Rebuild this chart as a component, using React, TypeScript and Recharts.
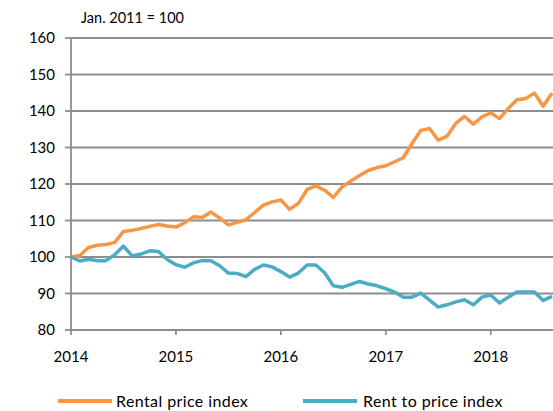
import React from 'react';
import { LineChart, Line, XAxis, YAxis, CartesianGrid } from 'recharts';

// Monthly observations, Jan 2014 .. Aug 2018 (index 0 = Jan 2014)
const rentalPriceIndex = [
  100, 100.4, 102.6, 103.2, 103.4, 104, 107, 107.3, 107.8, 108.4, 108.9, 108.5,
  108.2, 109.4, 111, 110.8, 112.3, 110.7, 108.8, 109.5, 110.2, 112.2, 114.2, 115.1,
  115.6, 113.1, 114.7, 118.5, 119.5, 118.3, 116.3, 119.2, 120.8, 122.3, 123.7, 124.5,
  125, 126.1, 127.2, 131.1, 134.7, 135.2, 132, 133.1, 136.6, 138.5, 136.4, 138.4,
  139.5, 137.9, 140.7, 143.1, 143.4, 144.9, 141.3, 144.9,
];
const rentToPriceIndex = [
  100, 98.9, 99.4, 99, 99, 100.6, 103, 100.3, 100.8, 101.7, 101.5, 99.3,
  97.9, 97.2, 98.4, 99, 99, 97.6, 95.6, 95.5, 94.6, 96.6, 97.8, 97.3,
  96, 94.5, 95.6, 97.8, 97.8, 95.7, 92.1, 91.7, 92.5, 93.3, 92.6, 92.1,
  91.3, 90.4, 89, 89, 90.1, 88.2, 86.3, 86.9, 87.7, 88.3, 86.9, 89,
  89.6, 87.4, 89, 90.4, 90.4, 90.4, 88.1, 89.2,
];
const yearTicks = [0, 12, 24, 36, 48];
const yearLabels = ['2014', '2015', '2016', '2017', '2018'];
const yTicks = [80, 90, 100, 110, 120, 130, 140, 150, 160];
const seriesNames = ['Rental price index', 'Rent to price index'];
const unitNote = 'Jan. 2011 = 100';

const ORANGE = '#F79646';
const BLUE = '#4BACC6';
const GRID = '#8d8d8d';
const FONT = 'Lato, "Open Sans", sans-serif';

const data = rentalPriceIndex.map((v, i) => ({
  m: i,
  rental: v,
  rtp: rentToPriceIndex[i],
}));

export default function App() {
  return (
    <div style={{ position: 'absolute', left: 0, top: 0, width: 553, height: 411, background: '#fff', overflow: 'hidden' }}>
      <LineChart width={553} height={411} data={data} margin={{ top: 38, right: 0, bottom: 0, left: 0 }}>
        <CartesianGrid vertical={false} stroke={GRID} strokeWidth={1.8} />
        <XAxis
          dataKey="m"
          type="number"
          domain={[0, 55.12]}
          ticks={yearTicks}
          interval={0}
          tickFormatter={(v: number) => yearLabels[yearTicks.indexOf(v)]}
          height={81}
          tickSize={5}
          tickMargin={16}
          axisLine={{ stroke: GRID, strokeWidth: 1.8 }}
          tickLine={{ stroke: GRID, strokeWidth: 1.8 }}
          tick={{ fill: '#000', fontSize: 15, fontFamily: FONT }}
        />
        <YAxis
          domain={[80, 160]}
          ticks={yTicks}
          interval={0}
          width={71}
          tickSize={6}
          tickMargin={10}
          axisLine={{ stroke: GRID, strokeWidth: 1.8 }}
          tickLine={{ stroke: GRID, strokeWidth: 1.8 }}
          tick={{ fill: '#000', fontSize: 15, fontFamily: FONT }}
        />
        <Line
          dataKey="rental"
          name={seriesNames[0]}
          stroke={ORANGE}
          strokeWidth={3.5}
          dot={false}
          strokeLinejoin="round"
          isAnimationActive={false}
        />
        <Line
          dataKey="rtp"
          name={seriesNames[1]}
          stroke={BLUE}
          strokeWidth={3.5}
          dot={false}
          strokeLinejoin="round"
          isAnimationActive={false}
        />
      </LineChart>
      <svg width={553} height={411} style={{ position: 'absolute', left: 0, top: 0, pointerEvents: 'none' }}>
        <text x={81} y={22.5} fontSize={14.5} fontFamily={FONT} fill="#000">{unitNote}</text>
        <line x1={58} x2={112} y1={401} y2={401} stroke={ORANGE} strokeWidth={4} />
        <text x={116} y={407} fontSize={16} letterSpacing={0.4} fontFamily={FONT} fill="#000">{seriesNames[0]}</text>
        <line x1={303} x2={357} y1={401} y2={401} stroke={BLUE} strokeWidth={4} />
        <text x={363} y={407} fontSize={16} letterSpacing={0.4} fontFamily={FONT} fill="#000">{seriesNames[1]}</text>
      </svg>
    </div>
  );
}
